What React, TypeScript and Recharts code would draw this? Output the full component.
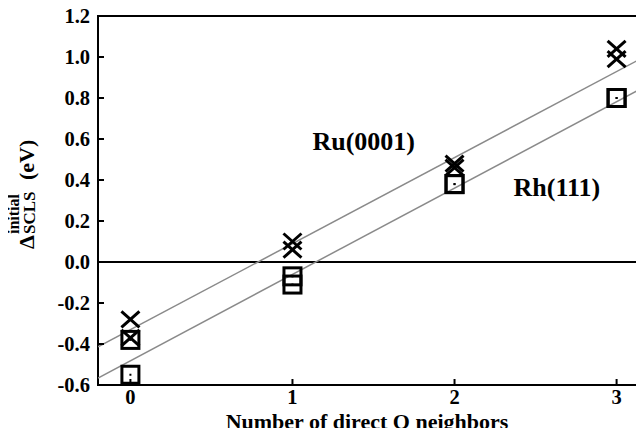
import { ComposedChart, Scatter, XAxis, YAxis, ReferenceLine, ReferenceDot, ReferenceArea } from "recharts";

// number of direct O neighbours
const neighbors = [0, 1, 2, 3];
// Ru(0001) initial-state SCLS (eV), crosses
const ruHigh = [-0.28, 0.1, 0.48, 1.04];
const ruLow = [-0.37, 0.06, 0.46, 0.99];
// Rh(111) initial-state SCLS (eV), squares
const rhHigh = [-0.38, -0.07, 0.38, 0.8];
const rhLow = [-0.55, -0.11, 0.38, 0.8];
// linear fits, ends at the frame edges
const fitX = [-0.2, 3.2];
const ruFit = [-0.414, 1.013];
const rhFit = [-0.566, 0.866];

const xTicks = [0, 1, 2, 3];
const yTicks = [-0.6, -0.4, -0.2, 0, 0.2, 0.4, 0.6, 0.8, 1.0, 1.2];
const xDomain = [-0.2, 3.2];
const yDomain = [-0.6, 1.2];

const pts = (xs: number[], ys: number[]) => xs.map((x, i) => ({ x, y: ys[i] }));

const FONT = "'Liberation Serif', 'Times New Roman', serif";
const font = { fill: "#000", fontSize: 20.5, fontWeight: "bold", fontFamily: FONT };

// ticks point into the frame, labels stay outside
const LeftTick = (p: any) => (
  <g>
    <line x1={p.x + 8} y1={p.y} x2={p.x + 14} y2={p.y} stroke="#000" strokeWidth={2} />
    <text x={p.x} y={p.y} dy="0.35em" textAnchor="end" {...font}>
      {p.payload.value.toFixed(1)}
    </text>
  </g>
);

const BottomTick = (p: any) => (
  <g>
    <line x1={p.x} y1={p.y - 9} x2={p.x} y2={p.y - 15} stroke="#000" strokeWidth={2} />
    <text x={p.x} y={p.y + 10} textAnchor="middle" {...font}>
      {p.payload.value}
    </text>
  </g>
);

const TopTick = (p: any) => <line x1={p.x} y1={p.y} x2={p.x} y2={p.y + 6} stroke="#000" strokeWidth={2} />;
const RightTick = (p: any) => <line x1={p.x} y1={p.y} x2={p.x - 8} y2={p.y} stroke="#000" strokeWidth={2} />;

const Cross = (p: any) => (
  <g stroke="#000" strokeWidth={3}>
    <line x1={p.cx - 9} y1={p.cy - 8} x2={p.cx + 9} y2={p.cy + 8} />
    <line x1={p.cx - 9} y1={p.cy + 8} x2={p.cx + 9} y2={p.cy - 8} />
  </g>
);

const Box = (p: any) => (
  <g>
    <rect x={p.cx - 8.5} y={p.cy - 8.5} width={17} height={17} fill="none" stroke="#000" strokeWidth={3} />
    <rect x={p.cx - 1} y={p.cy - 1} width={2} height={2} fill="#000" />
  </g>
);

const NoDot = () => <g />;

const YTitle = () => (
  <g transform="translate(34, 249) rotate(-90)" fontFamily={FONT} fontWeight="bold" fill="#000">
    <text x={0} y={0} fontSize={22}>Δ</text>
    <text x={15} y={1} fontSize={17}>SCLS</text>
    <text x={15} y={-15} fontSize={16}>initial</text>
    <text x={69} y={0} fontSize={22}>(eV)</text>
  </g>
);

const XTitle = () => (
  <text x={367} y={429} textAnchor="middle" fontFamily={FONT} fontWeight="bold" fontSize={22} fill="#000">
    Number of direct O neighbors
  </text>
);

const tag = (s: string) => (p: any) => (
  <text x={p.viewBox.x} y={p.viewBox.y} fontFamily={FONT} fontWeight="bold" fontSize={26} fill="#000">
    {s}
  </text>
);

export default function App() {
  return (
    <div style={{ margin: -8, width: 644, height: 436, overflow: "hidden", background: "#fff" }}>
      <ComposedChart width={663} height={436} margin={{ top: 16, right: 14, bottom: 0, left: 0 }}>
        <XAxis
          xAxisId="b"
          type="number"
          dataKey="x"
          domain={xDomain}
          allowDataOverflow
          ticks={xTicks}
          height={51}
          axisLine={false}
          tickLine={false}
          tickSize={0}
          tickMargin={9}
          tick={BottomTick}
          label={{ content: () => <XTitle /> }}
        />
        <XAxis
          xAxisId="t"
          orientation="top"
          type="number"
          domain={xDomain}
          allowDataOverflow
          ticks={xTicks}
          height={0}
          axisLine={false}
          tickLine={false}
          tickSize={0}
          tickMargin={0}
          tick={TopTick}
        />
        <YAxis
          yAxisId="l"
          type="number"
          dataKey="y"
          domain={yDomain}
          allowDataOverflow
          ticks={yTicks}
          width={98}
          axisLine={false}
          tickLine={false}
          tickSize={0}
          tickMargin={8}
          tick={LeftTick}
          label={{ content: () => <YTitle /> }}
        />
        <YAxis
          yAxisId="r"
          orientation="right"
          type="number"
          domain={yDomain}
          allowDataOverflow
          ticks={yTicks}
          width={0}
          axisLine={false}
          tickLine={false}
          tickSize={0}
          tickMargin={0}
          tick={RightTick}
        />
        <ReferenceArea
          xAxisId="b"
          yAxisId="l"
          x1={xDomain[0]}
          x2={xDomain[1]}
          y1={yDomain[0]}
          y2={yDomain[1]}
          fill="none"
          stroke="#000"
          strokeWidth={2}
        />
        <ReferenceLine xAxisId="b" yAxisId="l" y={0} stroke="#000" strokeWidth={2} />
        <Scatter xAxisId="b" yAxisId="l" data={pts(fitX, ruFit)} line={{ stroke: "#8a8a8a", strokeWidth: 1.5 }} shape={NoDot} isAnimationActive={false} />
        <Scatter xAxisId="b" yAxisId="l" data={pts(fitX, rhFit)} line={{ stroke: "#8a8a8a", strokeWidth: 1.5 }} shape={NoDot} isAnimationActive={false} />
        <Scatter xAxisId="b" yAxisId="l" data={pts(neighbors, rhHigh)} shape={Box} isAnimationActive={false} />
        <Scatter xAxisId="b" yAxisId="l" data={pts(neighbors, rhLow)} shape={Box} isAnimationActive={false} />
        <Scatter xAxisId="b" yAxisId="l" data={pts(neighbors, ruHigh)} shape={Cross} isAnimationActive={false} />
        <Scatter xAxisId="b" yAxisId="l" data={pts(neighbors, ruLow)} shape={Cross} isAnimationActive={false} />
        <ReferenceDot xAxisId="b" yAxisId="l" x={1.123} y={0.546} r={0} fill="none" stroke="none" label={{ content: tag("Ru(0001)") }} />
        <ReferenceDot xAxisId="b" yAxisId="l" x={2.364} y={0.322} r={0} fill="none" stroke="none" label={{ content: tag("Rh(111)") }} />
      </ComposedChart>
    </div>
  );
}
